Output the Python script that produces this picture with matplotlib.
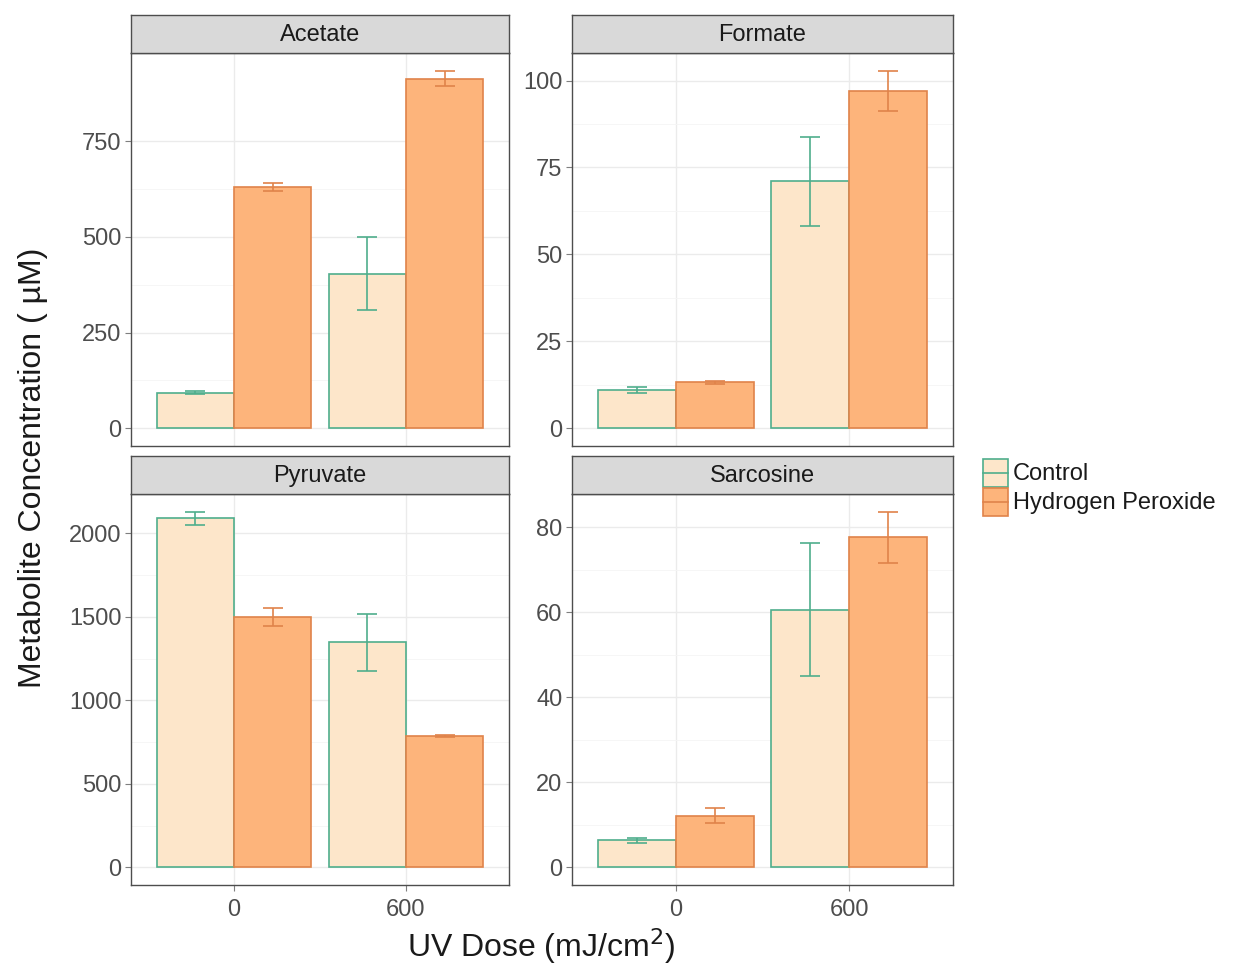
import numpy as np
import matplotlib.pyplot as plt
from matplotlib.patches import Rectangle

plt.rcParams['font.family'] = ['Liberation Sans', 'DejaVu Sans']

metabolites = ["Acetate", "Formate", "Pyruvate", "Sarcosine"]
doses = ["0", "600"]
groups = ["Control", "Hydrogen Peroxide"]

control_mean = [[92, 404], [11, 71], [2090, 1348], [6.3, 60.6]]
control_err = [[4, 95], [0.8, 12.8], [40, 172], [0.5, 15.7]]
peroxide_mean = [[630, 914], [13.2, 97], [1500, 787], [12.1, 77.6]]
peroxide_err = [[11, 20], [0.4, 5.8], [55, 8], [1.8, 6]]

yticks = [[0, 250, 500, 750], [0, 25, 50, 75, 100],
          [0, 500, 1000, 1500, 2000], [0, 20, 40, 60, 80]]

fills = ["#FDE6CA", "#FDB47B"]
edges = ["#4FAE8C", "#E0834A"]

fig = plt.figure(figsize=(12.43, 9.71), dpi=100)
W, H = 1243.0, 971.0
boxes = [(131, 53, 378, 393), (572, 53, 381, 393),
         (131, 494, 378, 391), (572, 494, 381, 391)]

for k, name in enumerate(metabolites):
    x0, y0, w, h = boxes[k]
    ax = fig.add_axes([x0 / W, 1 - (y0 + h) / H, w / W, h / H])
    pos = np.arange(1, 3)
    bw = 0.45
    means = [control_mean[k], peroxide_mean[k]]
    errs = [control_err[k], peroxide_err[k]]
    for g in range(2):
        xs = pos - bw / 2 + g * bw
        ax.bar(xs, means[g], width=bw, color=fills[g], edgecolor=edges[g],
               linewidth=1.2, zorder=2)
        ax.errorbar(xs, means[g], yerr=errs[g], fmt="none", ecolor=edges[g],
                    elinewidth=1.2, capsize=7, capthick=1.2, zorder=3)
    top = max(max(np.array(m) + np.array(e)) for m, e in zip(means, errs))
    ax.set_ylim(-0.05 * top, 1.05 * top)
    ax.set_xlim(0.4, 2.6)
    ax.set_yticks(yticks[k])
    ax.set_yticks(np.array(yticks[k][:-1]) + (yticks[k][1] - yticks[k][0]) / 2,
                  minor=True)
    ax.set_xticks(pos)
    ax.grid(True, which="major", color="#EBEBEB", linewidth=1.0, zorder=0)
    ax.grid(True, which="minor", axis="y", color="#F5F5F5", linewidth=0.6, zorder=0)
    ax.set_axisbelow(True)
    ax.tick_params(axis="both", which="major", labelsize=17, color="#7F7F7F",
                   length=4, width=0.8, labelcolor="#4D4D4D", pad=3)
    ax.tick_params(axis="y", which="minor", length=0)
    if k >= 2:
        ax.set_xticklabels(doses)
        ax.tick_params(axis="x", which="major", pad=6)
    else:
        ax.set_xticklabels([])
        ax.tick_params(axis="x", which="major", length=0)
    for s in ax.spines.values():
        s.set_color("#4D4D4D")
        s.set_linewidth(1.0)
    # facet strip
    sax = fig.add_axes([x0 / W, 1 - y0 / H, w / W, 38 / H])
    sax.set_xticks([])
    sax.set_yticks([])
    sax.set_facecolor("#D9D9D9")
    for s in sax.spines.values():
        s.set_color("#4D4D4D")
        s.set_linewidth(1.0)
    sax.text(0.5, 0.47, name, ha="center", va="center", fontsize=17,
             color="#1A1A1A", transform=sax.transAxes)

fig.text(33 / W, 1 - 468 / H, "Metabolite Concentration ( \u00b5M)", rotation=90,
         ha="center", va="center", fontsize=23, color="#1A1A1A")
fig.text(541 / W, 1 - 946 / H, "UV Dose (mJ/cm$^2$)", ha="center", va="center",
         fontsize=23, color="#1A1A1A")

# legend
for g in range(2):
    ky = 459 + g * 29
    fig.patches.append(Rectangle((983 / W, 1 - (ky + 28) / H), 25 / W, 28 / H,
                                 transform=fig.transFigure, facecolor=fills[g],
                                 edgecolor=edges[g], linewidth=1.2))
    fig.lines.append(plt.Line2D([983 / W, 1008 / W], [1 - (ky + 14) / H] * 2,
                                transform=fig.transFigure, color=edges[g],
                                linewidth=1.2))
    fig.text(1013 / W, 1 - (ky + 15) / H, groups[g], ha="left", va="center",
             fontsize=17, color="#1A1A1A")

fig.savefig("out.png", dpi=100)
